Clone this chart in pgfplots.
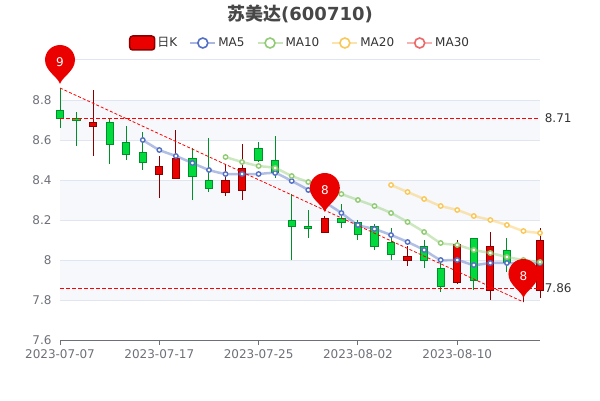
\documentclass[border=0pt]{standalone}
\usepackage{fontspec}
\setmainfont{DejaVu Sans}
\newfontfamily\cjk{Noto Sans CJK SC}
\usepackage{pgfplots}
\pgfplotsset{compat=1.18}

\definecolor{upred}{HTML}{EB0000}
\definecolor{upedge}{HTML}{8A0000}
\definecolor{downgreen}{HTML}{00DA3C}
\definecolor{downedge}{HTML}{008F28}
\definecolor{maA}{HTML}{5470C6}
\definecolor{maB}{HTML}{91CC75}
\definecolor{maC}{HTML}{FAC858}
\definecolor{maD}{HTML}{EE6666}
\definecolor{band}{HTML}{F6F8FC}
\definecolor{gridc}{HTML}{E0E6F1}
\definecolor{axisc}{HTML}{6E7079}

% fill, edge, x, low, body bottom, body top, high
\newcommand{\candle}[7]{%
  \pgfmathsetmacro\xa{#3-0.22}\pgfmathsetmacro\xb{#3+0.22}%
  \addplot[forget plot, draw=#2, line width=1pt] coordinates {(#3,#4)(#3,#5)};
  \addplot[forget plot, draw=#2, line width=1pt] coordinates {(#3,#6)(#3,#7)};
  \addplot[forget plot, fill=#1, draw=#2, line width=1pt, line cap=rect]
    coordinates {(\xa,#5)(\xb,#5)(\xb,#6)(\xa,#6)(\xa,#5)};
}
\newcommand{\up}{\candle{upred}{upedge}}
\newcommand{\down}{\candle{downgreen}{downedge}}

% tip sits a little above the data point
\pgfdeclareplotmark{pin}{%
  \pgfpathmoveto{\pgfqpoint{0pt}{4pt}}%
  \pgfpathcurveto{\pgfqpoint{-2pt}{11pt}}{\pgfqpoint{-15pt}{17pt}}{\pgfqpoint{-15pt}{28pt}}%
  \pgfpatharc{180}{0}{15pt}%
  \pgfpathcurveto{\pgfqpoint{15pt}{17pt}}{\pgfqpoint{2pt}{11pt}}{\pgfqpoint{0pt}{4pt}}%
  \pgfusepathqfill}

\pgfplotsset{
  ma/.style={forget plot, smooth, tension=0.35, line width=2.5pt, draw=#1, draw opacity=0.45,
    mark=*, mark size=2.2pt, mark options={solid, fill=white, draw=#1, draw opacity=1, line width=1.4pt}},
  legma/.style={legend image code/.code={
    \draw[#1, line width=2pt, opacity=0.5] (0pt,0pt) -- (25pt,0pt);
    \draw[#1, fill=white, line width=1.6pt] (12.5pt,0pt) circle (5pt);}},
  bandp/.style={forget plot, on layer=axis background, fill=band, draw=none},
}

\begin{document}
\begin{tikzpicture}
\begin{axis}[
    at={(60pt,60pt)}, anchor=south west,
    scale only axis, width=480pt, height=280pt,
    clip=false, set layers,
    xmin=0, xmax=29, ymin=7.6, ymax=9.0,
    axis x line*=bottom, axis y line*=left,
    x axis line style={draw=axisc, -},
    y axis line style={draw=none, -},
    xtick={0,6,12,18,24},
    xticklabels={2023-07-07,2023-07-17,2023-07-25,2023-08-02,2023-08-10},
    ytick={7.6,7.8,8,8.2,8.4,8.6,8.8,9},
    yticklabels={7.6,7.8,8,8.2,8.4,8.6,8.8,},
    ymajorgrids, grid style={gridc, line width=1pt},
    tick align=outside,
    xtick style={draw=axisc, line width=1pt},
    ytick style={draw=none},
    x tick label style={font=\fontsize{12}{14}\selectfont, text=axisc, yshift=-1pt},
    y tick label style={font=\fontsize{12}{14}\selectfont, text=axisc},
    major tick length=5pt,
    title={{\cjk\bfseries 苏美达}\textbf{(600710)}},
    title style={font=\fontsize{18}{20}\selectfont, text=black!72, anchor=center, yshift=40pt},
    legend columns=5,
    legend style={at={(0.5,1)}, anchor=center, yshift=17pt, xshift=0pt, draw=none, fill=none,
      font=\fontsize{12}{14}\selectfont, text=black!80, inner sep=0pt,
      /tikz/every even column/.append style={column sep=10pt}},
]
\addplot[bandp] coordinates {(0,8.6)(29,8.6)(29,8.8)(0,8.8)};
\addplot[bandp] coordinates {(0,8.2)(29,8.2)(29,8.4)(0,8.4)};
\addplot[bandp] coordinates {(0,7.8)(29,7.8)(29,8.0)(0,8.0)};

\addlegendimage{legend image code/.code={
  \draw[upedge, fill=upred, line width=1.5pt, rounded corners=3pt] (0pt,-7pt) rectangle (25pt,7pt);}}
\addlegendentry{{\cjk 日}K}
\addlegendimage{legma=maA}\addlegendentry{MA5}
\addlegendimage{legma=maB}\addlegendentry{MA10}
\addlegendimage{legma=maC}\addlegendentry{MA20}
\addlegendimage{legma=maD}\addlegendentry{MA30}

\down{0}{8.66}{8.71}{8.75}{8.86}
\down{1}{8.57}{8.70}{8.71}{8.74}
\up{2}{8.52}{8.67}{8.69}{8.85}
\down{3}{8.48}{8.58}{8.69}{8.71}
\down{4}{8.50}{8.53}{8.59}{8.67}
\down{5}{8.45}{8.49}{8.54}{8.64}
\up{6}{8.31}{8.43}{8.47}{8.52}
\up{7}{8.41}{8.41}{8.51}{8.65}
\down{8}{8.30}{8.42}{8.51}{8.56}
\down{9}{8.34}{8.36}{8.40}{8.61}
\up{10}{8.32}{8.34}{8.40}{8.48}
\up{11}{8.30}{8.35}{8.46}{8.58}
\down{12}{8.49}{8.50}{8.56}{8.59}
\down{13}{8.41}{8.44}{8.50}{8.62}
\down{14}{8.00}{8.17}{8.20}{8.33}
\down{15}{8.11}{8.16}{8.17}{8.25}
\up{16}{8.14}{8.14}{8.21}{8.22}
\down{17}{8.16}{8.19}{8.21}{8.28}
\down{18}{8.10}{8.13}{8.19}{8.20}
\down{19}{8.05}{8.07}{8.17}{8.18}
\down{20}{8.00}{8.03}{8.09}{8.16}
\up{21}{7.97}{8.00}{8.02}{8.07}
\down{22}{7.96}{8.00}{8.07}{8.10}
\down{23}{7.84}{7.87}{7.96}{8.00}
\up{24}{7.88}{7.89}{8.08}{8.10}
\down{25}{7.85}{7.90}{8.11}{8.11}
\up{26}{7.80}{7.85}{8.07}{8.14}
\down{27}{7.94}{7.99}{8.05}{8.11}
\up{28}{7.79}{7.88}{7.95}{8.00}
\up{29}{7.81}{7.85}{8.10}{8.16}

\addplot[ma=maA] coordinates {(5,8.60)(6,8.55)(7,8.52)(8,8.485)(9,8.45)(10,8.43)(11,8.43)(12,8.43)(13,8.435)
  (14,8.395)(15,8.35)(16,8.29)(17,8.235)(18,8.175)(19,8.155)(20,8.125)(21,8.09)(22,8.05)(23,8.00)(24,8.00)
  (25,7.975)(26,7.985)(27,7.985)(28,7.985)(29,7.985)};
\addplot[ma=maB] coordinates {(10,8.515)(11,8.49)(12,8.47)(13,8.46)(14,8.42)(15,8.39)(16,8.36)(17,8.33)(18,8.30)
  (19,8.27)(20,8.235)(21,8.19)(22,8.14)(23,8.085)(24,8.075)(25,8.05)(26,8.035)(27,8.015)(28,8.00)(29,7.99)};
\addplot[ma=maC] coordinates {(20,8.375)(21,8.34)(22,8.305)(23,8.27)(24,8.25)(25,8.22)(26,8.20)(27,8.175)(28,8.145)(29,8.135)};

\addplot[forget plot, red, line width=1pt, dash pattern=on 4pt off 2pt] coordinates {(0,8.71)(29,8.71)}
  node[pos=1, anchor=west, xshift=1pt, text=black!80, font=\fontsize{12}{14}\selectfont] {8.71};
\addplot[forget plot, red, line width=1pt, dash pattern=on 4pt off 2pt] coordinates {(0,7.86)(29,7.86)}
  node[pos=1, anchor=west, xshift=1pt, text=black!80, font=\fontsize{12}{14}\selectfont] {7.86};
\addplot[forget plot, red, line width=0.8pt, dash pattern=on 3pt off 2pt] coordinates {(0,8.86)(28,7.79)};

\addplot[forget plot, only marks, mark=pin, mark options={fill=upred, draw=none},
    point meta=explicit symbolic, nodes near coords,
    every node near coord/.style={anchor=center, yshift=26pt, text=white, font=\fontsize{12}{14}\selectfont}]
  coordinates {(0,8.86)[9] (16,8.22)[8] (28,7.79)[8]};
\end{axis}
\pgfresetboundingbox
\path[use as bounding box] (0,0) rectangle (600pt,400pt);
\end{tikzpicture}
\end{document}
